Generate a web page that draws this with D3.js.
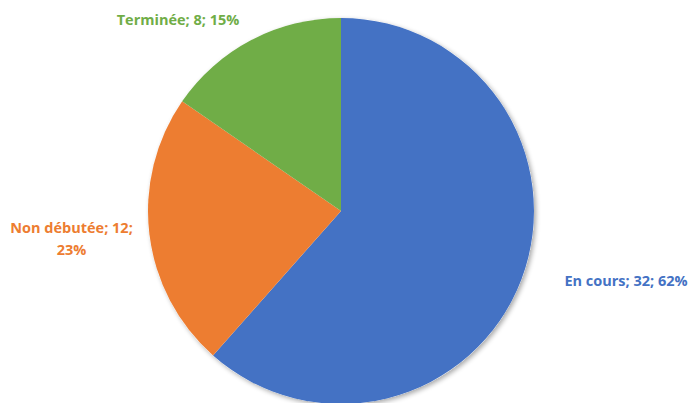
<!DOCTYPE html>
<html><head><meta charset="utf-8">
<script src="https://cdn.jsdelivr.net/npm/d3@7"></script>
<style>body{margin:0;background:#fff}svg{display:block}</style>
</head><body>
<svg id="c" width="689" height="403"></svg>
<script>
const categories = ["En cours", "Non débutée", "Terminée"];
const values = [32, 12, 8];
const percents = ["62%", "23%", "15%"];
const colors = ["#4472C4", "#ED7D31", "#70AD47"];

const svg = d3.select("#c");
const W = 689, H = 403;
const cx = 341, cy = 211, r = 193;

const defs = svg.append("defs");
const f = defs.append("filter").attr("id","sh").attr("x","-20%").attr("y","-20%").attr("width","140%").attr("height","140%");
f.append("feGaussianBlur").attr("in","SourceAlpha").attr("stdDeviation",2.5);
f.append("feOffset").attr("dx",1.5).attr("dy",1.5).attr("result","b");
f.append("feComponentTransfer").append("feFuncA").attr("type","linear").attr("slope",0.35);
const m = f.append("feMerge"); m.append("feMergeNode"); m.append("feMergeNode").attr("in","SourceGraphic");

const pie = d3.pie().sort(null).value(d => d)(values);
const arc = d3.arc().innerRadius(0).outerRadius(r);
const g = svg.append("g").attr("transform", `translate(${cx},${cy})`);
g.append("circle").attr("r", r).attr("fill", "#fff").attr("filter","url(#sh)");
g.selectAll("path").data(pie).join("path")
  .attr("d", arc).attr("fill", (d,i) => colors[i]);

const font = "'Open Sans', sans-serif";
const labels = [
  {lines: [`${categories[0]}; ${values[0]}; ${percents[0]}`], x: 626, y: 286},
  {lines: [`${categories[1]}; ${values[1]};`, percents[1]], x: 71.5, y: 233},
  {lines: [`${categories[2]}; ${values[2]}; ${percents[2]}`], x: 178, y: 25}
];
labels.forEach((l,i) => {
  const t = svg.append("text").attr("text-anchor","middle")
    .attr("font-family", font).attr("font-weight","bold").attr("font-size", 14.5)
    .attr("fill", colors[i]);
  l.lines.forEach((s,j) => t.append("tspan").attr("x", l.x).attr("y", l.y + j*22).text(s));
});
</script>
</body></html>
